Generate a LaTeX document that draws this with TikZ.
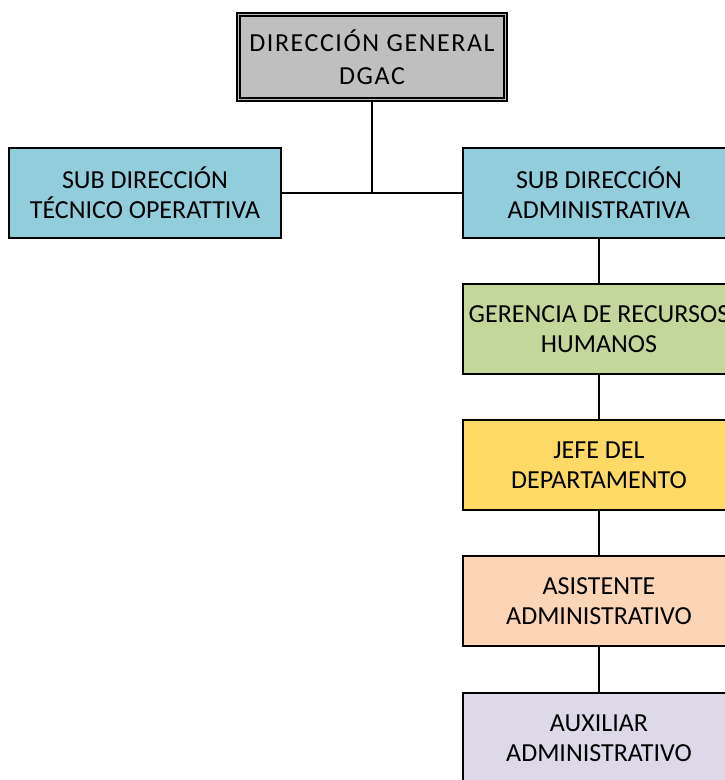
\documentclass[tikz,border=0pt]{standalone}
\usepackage{fontspec}
\setmainfont{Carlito}
\usepackage{tikz}

\definecolor{dgacgray}{HTML}{BFBFBF}
\definecolor{subblue}{HTML}{92CDDC}
\definecolor{rrhhgreen}{HTML}{C4D79B}
\definecolor{jefeyellow}{HTML}{FFD966}
\definecolor{asispeach}{HTML}{FBD5B5}
\definecolor{auxlila}{HTML}{DDD9E8}

\begin{document}
\begin{tikzpicture}[%
      x=1pt, y=-1pt,
      cargo/.style={draw=black, line width=1.6pt, minimum width=272pt,
        minimum height=90pt, inner sep=2pt, align=center,
        font=\fontsize{26}{30}\selectfont},
      linea/.style={draw=black, line width=1.6pt},
      ]
      \useasboundingbox (0,0) rectangle (725,780);

      % cargos
      \node [cargo, fill=dgacgray, double=dgacgray, double distance=1.8pt,
        line width=1.5pt, minimum width=267pt, minimum height=85pt,
        font=\addfontfeature{LetterSpace=6}\fontsize{26}{33}\selectfont]
        (dg) at (372,57) {DIRECCIÓN GENERAL\\DGAC};
      \node [cargo, fill=subblue] (sdt) at (145,193)
        {SUB DIRECCIÓN\\TÉCNICO OPERATTIVA};
      \node [cargo, fill=subblue] (sda) at (599,193)
        {SUB DIRECCIÓN\\ADMINISTRATIVA};
      \node [cargo, fill=rrhhgreen] (grh) at (599,329)
        {GERENCIA DE RECURSOS\\HUMANOS};
      \node [cargo, fill=jefeyellow] (jd) at (599,465)
        {JEFE DEL\\DEPARTAMENTO};
      \node [cargo, fill=asispeach] (asis) at (599,601)
        {ASISTENTE\\ADMINISTRATIVO};
      \node [cargo, fill=auxlila] (aux) at (599,738)
        {AUXILIAR\\ADMINISTRATIVO};

      % lineas
      \draw [linea] (dg.south) -- (dg.south |- sdt.east);
      \draw [linea] (sdt.east) -- (sda.west);
      \draw [linea] (sda) -- (grh);
      \draw [linea] (grh) -- (jd);
      \draw [linea] (jd) -- (asis);
      \draw [linea] (asis) -- (aux);
\end{tikzpicture}
\end{document}
